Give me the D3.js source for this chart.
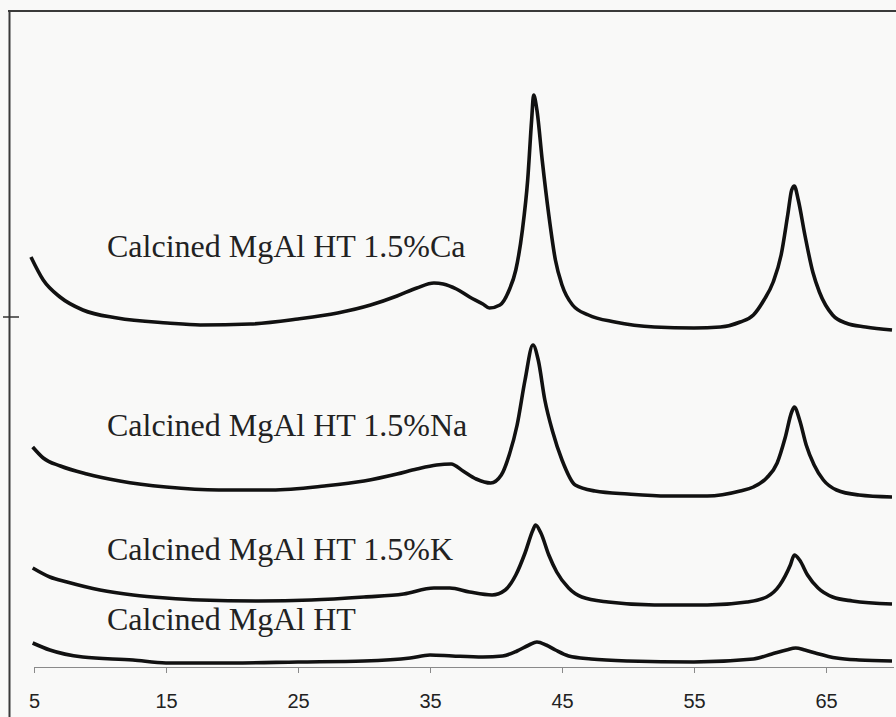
<!DOCTYPE html>
<html>
<head>
<meta charset="utf-8">
<script src="https://cdn.jsdelivr.net/npm/d3@7"></script>
<style>
  html, body { margin: 0; padding: 0; background: #f9f9f8; }
  svg { display: block; }
  .lbl { font-family: "Liberation Serif", "Times New Roman", Times, "DejaVu Serif", serif; }
  .tk  { font-family: "Liberation Sans", Arial, Helvetica, sans-serif; }
</style>
</head>
<body>
<svg id="chart" width="896" height="717"></svg>
<script>
// ---- data (2-theta in degrees, intensity in arbitrary units incl. stacking offset) ----
const xTicks = [5, 15, 25, 35, 45, 55, 65];
const seriesNames = [
  "Calcined MgAl HT 1.5%Ca",
  "Calcined MgAl HT 1.5%Na",
  "Calcined MgAl HT 1.5%K",
  "Calcined MgAl HT"
];
const caTheta = [4.77,5.7,6.97,8.7,11.3,15.1,17.6,21.4,25,28,30.5,32.5,34,35.3,36,37,38,39,39.5,40.3,41,41.5,42,42.4,42.7,42.85,43.1,43.5,44,44.5,45,45.8,47,49,52,55,57,58.5,59.5,60.3,61,61.6,62.1,62.4,62.6,62.9,63.4,64,64.5,65.5,66.5,68,70];
const caInt   = [410,387,370,357,349,344,342,343,348,354,362,371,379,384,383,378,370,363,359,362,377,397,437,487,547,572,557,507,452,407,382,362,352,345,340,339,340,345,352,367,385,412,452,477,481,467,432,395,375,352,344,340,337];
const naTheta = [4.9,5.7,7,9,11.5,15,19,23,27,30,32.5,34,35.5,36.6,37.5,38.5,39.6,40.4,41,41.6,42.2,42.8,43.2,43.7,44.3,45,46,47.5,50,53,56,58.5,59.5,60.5,61.3,61.9,62.4,62.6,63,63.5,64.1,64.8,65.8,67.5,70];
const naInt   = [220,209,201,193,186,180,177,177,181,186,193,198,202,203,196,188,184,192,212,242,287,322,307,267,235,207,182,176,173,171,171,176,180,189,204,229,255,260,247,222,202,187,177,172,170];
const kTheta  = [4.9,6.2,7.5,10,12.5,15,17.6,22,26,30,33,35.3,36.5,38,39.7,40.7,41.5,42.2,42.8,43,43.4,44,44.6,45.5,46.5,48.5,52,56,59,60.5,61.5,62.3,62.6,63,63.6,64.4,65.5,67,70];
const kInt    = [99,90,85,77,72,69,67,66,67,70,73,79,79,75,72,77,92,114,137,142,134,112,95,79,70,65,62,62,65,70,82,102,112,107,92,79,70,66,63];
const htTheta = [4.9,6.2,8.7,12.5,15,20,25,30,33.5,35,36.7,39,40.5,41.6,42.5,43.1,43.8,44.5,45.5,47.2,50,55,59.5,60.9,62,62.7,63.4,64.2,65.8,67.5,70];
const htInt   = [24,17,10,7,4,4,5,6,9,12,11,10,11,16,22,25,22,17,11,8,6,5,8,13,17,19,17,14,9,7,6];

// label anchors: [2-theta, intensity] of text baseline start
const labelAnchor = [[10.53, 410], [10.53, 231], [10.53, 107], [10.53, 37]];

const series = [
  { name: seriesNames[0], theta: caTheta, val: caInt },
  { name: seriesNames[1], theta: naTheta, val: naInt },
  { name: seriesNames[2], theta: kTheta,  val: kInt  },
  { name: seriesNames[3], theta: htTheta, val: htInt }
];

// ---- layout ----
const svg = d3.select("#chart");
const x = d3.scaleLinear().domain([5, 70]).range([34, 892]);
const y = d3.scaleLinear().domain([0, 660]).range([667, 7]);

// frame (left and top border)
svg.append("line").attr("x1", 9.5).attr("x2", 9.5).attr("y1", 10).attr("y2", 717)
  .attr("stroke", "#3a3a3a").attr("stroke-width", 2);
svg.append("line").attr("x1", 8).attr("x2", 896).attr("y1", 11).attr("y2", 11)
  .attr("stroke", "#3a3a3a").attr("stroke-width", 2);

// small y tick on left border
svg.append("line").attr("x1", 3).attr("x2", 19).attr("y1", y(350)).attr("y2", y(350))
  .attr("stroke", "#333").attr("stroke-width", 1.5);

// x axis
const xAxis = d3.axisBottom(x).tickValues(xTicks).tickSize(6).tickPadding(21)
  .tickFormat(d3.format("d"));
const gx = svg.append("g").attr("transform", `translate(0,${y(0)})`).call(xAxis);
gx.attr("font-family", null).attr("font-size", null);
gx.select(".domain").remove();
gx.append("line").attr("x1", x(5)).attr("x2", 894).attr("y1", 0.5).attr("y2", 0.5)
  .attr("stroke", "#8a8a8a").attr("stroke-width", 1);
gx.selectAll(".tick line").attr("stroke", "#8a8a8a").attr("stroke-width", 1);
gx.selectAll(".tick text").attr("class", "tk")
  .style("font-size", "20px").attr("fill", "#222");

// traces
const line = d3.line().x(d => x(d[0])).y(d => y(d[1])).curve(d3.curveMonotoneX);
series.forEach(s => {
  const pts = s.theta.map((t, i) => [t, s.val[i]]);
  svg.append("path").datum(pts).attr("d", line)
    .attr("fill", "none").attr("stroke", "#111").attr("stroke-width", 3.6)
    .attr("stroke-linejoin", "round");
});

// labels
series.forEach((s, i) => {
  svg.append("text").attr("class", "lbl")
    .attr("x", x(labelAnchor[i][0])).attr("y", y(labelAnchor[i][1]))
    .style("font-size", "32px").attr("fill", "#222")
    .text(s.name);
});
</script>
</body>
</html>
